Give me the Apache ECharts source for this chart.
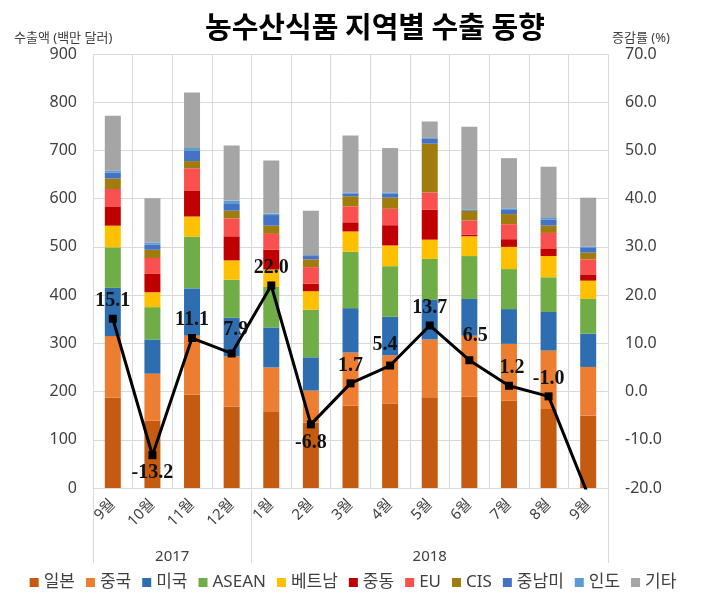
<!DOCTYPE html>
<html>
<head>
<meta charset="utf-8">
<script src="https://cdn.jsdelivr.net/npm/echarts@6/dist/echarts.min.js"></script>
<style>
html,body{margin:0;padding:0;background:#fff;}
#chart{width:706px;height:597px;}
</style>
</head>
<body>
<div id="chart"></div>
<script>
// ---- data ----
const categories = ['9월','10월','11월','12월','1월','2월','3월','4월','5월','6월','7월','8월','9월'];
const years = ['2017', '2018'];
const yearSpans = [4, 9];
const regionNames = ['일본','중국','미국','ASEAN','베트남','중동','EU','CIS','중남미','인도','기타'];
const japan   = [187,140,194,169,159,136,171,175,188,190,181,164,150];
const china   = [128, 97,122,104, 91, 66,110,100,120,126,118,121,101];
const usa     = [100, 71, 98, 80, 83, 69, 92, 80, 82, 76, 72, 80, 69];
const asean   = [ 84, 67,107, 79, 84, 99,117,105, 85, 89, 83, 72, 72];
const vietnam = [ 45, 31, 42, 40, 36, 38, 42, 43, 40, 41, 46, 44, 38];
const mideast = [ 40, 38, 53, 50, 41, 16, 19, 42, 62,  3, 16, 16, 13];
const eu      = [ 36, 33, 47, 37, 33, 34, 33, 34, 36, 30, 31, 32, 31];
const cis     = [ 22, 17, 15, 16, 17, 16, 21, 23,101, 20, 21, 15, 14];
const latam   = [ 12, 11, 21, 14, 22,  7,  6,  8, 10,  2, 10, 13, 11];
const india   = [  4,  4,  6,  7,  3,  2,  2,  2,  2,  1,  2,  3,  2];
const others  = [114, 92,115,114,110, 92,118, 93, 34,171,104,106,101];
const growthRate = [15.1,-13.2,11.1,7.9,22.0,-6.8,1.7,5.4,13.7,6.5,1.2,-1.0,-21.5];
const leftAxisRange = [0, 900, 100];
const rightAxisRange = [-20, 70, 10];

// ---- styles ----
const regionValues = [japan, china, usa, asean, vietnam, mideast, eu, cis, latam, india, others];
const regionColors = ['#c55a11','#ed7d31','#2e6eb0','#70ad47','#ffc000','#c00000','#fa5050','#a07c0c','#4472c4','#5b9bd5','#a5a5a5'];
const txt = '#404040';
const grid = '#d9d9d9';
const sans = 'Noto Sans, Noto Sans CJK KR, sans-serif';
// manual label nudges (as in the original chart), keyed by point index
const labelNudge = {3: [4, -6], 7: [-5, -3], 9: [6, -6], 10: [3, 0]};

const chart = echarts.init(document.getElementById('chart'), null, {renderer: 'canvas'});

const barSeries = regionNames.map((name, i) => ({
  name: name,
  type: 'bar',
  stack: 'total',
  barWidth: 16,
  data: regionValues[i],
  itemStyle: {color: regionColors[i]},
  emphasis: {disabled: true}
}));

const lastIdx = growthRate.length - 1;
const lineData = growthRate.map((v, i) => {
  const d = {value: v};
  if (i !== lastIdx && v < -5) d.label = {position: 'bottom'};
  if (labelNudge[i]) d.label = Object.assign({}, d.label, {offset: labelNudge[i]});
  if (i === lastIdx) { d.label = {show: false}; d.symbol = 'none'; }
  return d;
});

const option = {
  animation: false,
  textStyle: {fontFamily: sans},
  title: {
    text: '농수산식품 지역별 수출 동향',
    left: 200,
    top: 7,
    textStyle: {fontSize: 29, fontWeight: 'bold', color: '#000', fontFamily: 'Noto Sans CJK KR'}
  },
  legend: {
    data: regionNames,
    left: 'center',
    top: 569,
    icon: 'rect',
    itemWidth: 9,
    itemHeight: 9,
    itemGap: 11,
    textStyle: {fontSize: 17, color: txt, fontFamily: sans}
  },
  grid: {left: 93, right: 98, top: 54, bottom: 109},
  xAxis: {
    type: 'category',
    data: categories,
    axisLine: {lineStyle: {color: grid}},
    axisTick: {show: false},
    axisLabel: {rotate: 45, interval: 0, fontSize: 15, color: txt, margin: 14, fontFamily: sans},
    splitLine: {show: true, lineStyle: {color: grid}}
  },
  yAxis: [
    {
      type: 'value',
      min: leftAxisRange[0], max: leftAxisRange[1], interval: leftAxisRange[2],
      axisLine: {show: false},
      axisTick: {show: false},
      axisLabel: {fontSize: 16, color: txt, margin: 16, fontFamily: sans},
      splitLine: {lineStyle: {color: grid}}
    },
    {
      type: 'value',
      min: rightAxisRange[0], max: rightAxisRange[1], interval: rightAxisRange[2],
      axisLine: {show: false},
      axisTick: {show: false},
      axisLabel: {fontSize: 16, color: txt, margin: 17, fontFamily: sans,
        formatter: v => v.toFixed(1)},
      splitLine: {show: false}
    }
  ],
  series: barSeries.concat([{
    name: '증감률',
    type: 'line',
    yAxisIndex: 1,
    data: lineData,
    z: 10,
    symbol: 'rect',
    symbolSize: 8,
    clip: true,
    lineStyle: {color: '#000', width: 3},
    itemStyle: {color: '#000'},
    label: {
      show: true,
      position: 'top',
      distance: 4,
      formatter: p => p.value.toFixed(1),
      fontFamily: 'Liberation Serif',
      fontWeight: 'bold',
      fontSize: 20,
      color: '#111'
    },
    emphasis: {disabled: true}
  }])
};

chart.setOption(option);

// ---- multi-level category labels & axis titles ----
const c0 = chart.convertToPixel({xAxisIndex: 0}, 0);
const c1 = chart.convertToPixel({xAxisIndex: 0}, 1);
const band = c1 - c0;
const yBase = chart.convertToPixel({yAxisIndex: 0}, 0);
const graphics = [];
let start = 0;
const bounds = [c0 - band / 2];
years.forEach((y, k) => {
  const end = start + yearSpans[k];
  const left = c0 + (start - 0.5) * band;
  const right = c0 + (end - 0.5) * band;
  bounds.push(right);
  graphics.push({
    type: 'text', silent: true,
    style: {text: y, x: (left + right) / 2, y: yBase + 69, textAlign: 'center', textVerticalAlign: 'middle',
      fontSize: 15, fontFamily: sans, fill: txt}
  });
  start = end;
});
bounds.forEach(bx => {
  graphics.push({
    type: 'line', silent: true,
    shape: {x1: Math.round(bx) + 0.5, y1: yBase, x2: Math.round(bx) + 0.5, y2: yBase + 75},
    style: {stroke: grid, lineWidth: 1}
  });
});
graphics.push({
  type: 'text', silent: true,
  style: {text: '수출액 (백만 달러)', x: 14, y: 38, textAlign: 'left', textVerticalAlign: 'middle',
    fontSize: 13, fontFamily: sans, fill: txt}
});
graphics.push({
  type: 'text', silent: true,
  style: {text: '증감률 (%)', x: 612, y: 38, textAlign: 'left', textVerticalAlign: 'middle',
    fontSize: 13, fontFamily: sans, fill: txt}
});
chart.setOption({graphic: graphics});
</script>
</body>
</html>
